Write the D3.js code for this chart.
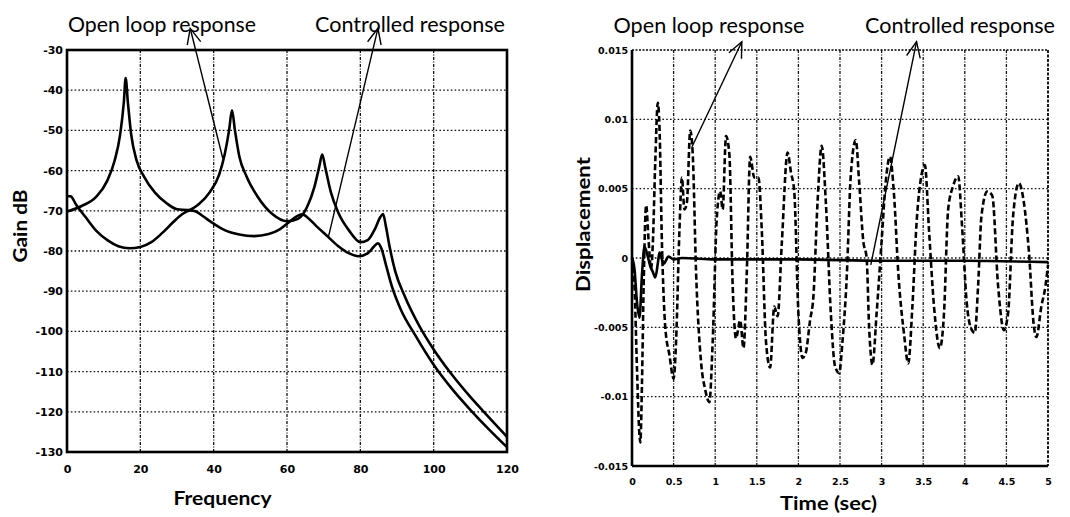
<!DOCTYPE html>
<html>
<head>
<meta charset="utf-8">
<script src="https://cdn.jsdelivr.net/npm/d3@7"></script>
<style>
  body { margin: 0; background: #fff; }
  svg { display: block; }
</style>
</head>
<body>
<div id="chart"></div>
<script>
// ---- left panel: frequency response ----
const freqTicks = [0, 20, 40, 60, 80, 100, 120];
const gainTicks = [-30, -40, -50, -60, -70, -80, -90, -100, -110, -120, -130];

const openFreq = [0, 4, 8, 11, 13, 14.5, 15.5, 16, 16.6, 17.5, 19, 21, 24, 27, 30, 33, 36, 39, 41.5, 43, 44.2, 45, 45.8, 47, 49, 52, 56, 60, 63, 65.5, 67.5, 68.8, 69.6, 70.5, 72, 74, 77, 80, 82, 84, 85.5, 86.2, 87, 88, 89.5, 92, 96, 100, 105, 110, 115, 120];
const openGain = [-70.2, -68.8, -66.5, -62.5, -57.5, -51, -43, -37, -43, -51, -57.5, -61.5, -65.5, -68, -69.6, -69.8, -68.3, -65.3, -61, -56, -50, -45, -50, -56.5, -61.5, -66.5, -70.8, -72.6, -72, -69, -64, -59, -56, -59.5, -65.5, -70.5, -75, -77.8, -77.3, -74.5, -71.5, -70.8, -74, -79, -85, -91, -98.5, -104.5, -110.8, -116.3, -121.3, -126.2];

const ctrlFreq = [0, 1, 2.5, 5, 8, 11, 14, 17, 20, 23, 26, 29, 31.5, 33.5, 35, 37, 40, 43, 47, 51, 55, 58, 61, 63, 64.3, 65.5, 68, 71, 74, 77, 79.5, 82, 83.8, 84.8, 85.8, 87, 88.5, 91, 95, 100, 105, 110, 115, 120];
const ctrlGain = [-66.3, -66.4, -68.5, -71.5, -75, -77.3, -78.8, -79.3, -79, -77.8, -75.5, -72.8, -70.8, -69.9, -70.1, -71.3, -73.2, -74.8, -75.9, -76.3, -75.8, -74.6, -72.5, -71.2, -70.9, -71.6, -73.8, -76.3, -78.8, -80.6, -81.3, -80.6, -78.8, -78.1, -79.5, -83.5, -88.5, -94.5, -101, -108.3, -114.3, -119.5, -124.3, -128.8];

// ---- right panel: time response ----
const timeTicks = [0, 0.5, 1, 1.5, 2, 2.5, 3, 3.5, 4, 4.5, 5];
const dispTicks = [0.015, 0.01, 0.005, 0, -0.005, -0.01, -0.015];

const openTime = [0, 0.03, 0.06, 0.09, 0.1, 0.12, 0.14, 0.17, 0.2, 0.23, 0.25, 0.28, 0.31, 0.33, 0.36, 0.4, 0.45, 0.5, 0.53, 0.57, 0.6, 0.63, 0.66, 0.7, 0.73, 0.77, 0.83, 0.88, 0.93, 0.97, 1.02, 1.06, 1.09, 1.13, 1.17, 1.21, 1.25, 1.3, 1.34, 1.38, 1.42, 1.47, 1.52, 1.56, 1.61, 1.66, 1.71, 1.75, 1.8, 1.87, 1.91, 1.95, 2, 2.05, 2.09, 2.14, 2.18, 2.23, 2.28, 2.33, 2.39, 2.44, 2.49, 2.53, 2.58, 2.63, 2.69, 2.73, 2.78, 2.82, 2.85, 2.89, 2.94, 3, 3.05, 3.1, 3.15, 3.2, 3.27, 3.32, 3.37, 3.42, 3.48, 3.52, 3.57, 3.63, 3.7, 3.75, 3.8, 3.86, 3.92, 3.97, 4.02, 4.07, 4.12, 4.16, 4.2, 4.27, 4.33, 4.4, 4.47, 4.52, 4.58, 4.65, 4.71, 4.77, 4.83, 4.86, 4.92, 4.97, 5];
const openDisp = [0, -0.002, -0.008, -0.0128, -0.0133, -0.009, -0.002, 0.0038, 0.0012, -0.0008, 0.001, 0.007, 0.0112, 0.0095, 0.001, -0.005, -0.007, -0.0087, -0.006, 0.002, 0.0058, 0.0035, 0.004, 0.0092, 0.0075, -0.001, -0.0075, -0.0095, -0.0104, -0.006, 0.003, 0.0048, 0.0035, 0.0088, 0.0075, -0.002, -0.0058, -0.0045, -0.0065, -0.001, 0.0073, 0.0058, 0.0058, 0.002, -0.006, -0.0079, -0.0035, -0.0042, 0.001, 0.0076, 0.0062, 0.0048, -0.004, -0.0072, -0.0068, -0.0045, -0.0028, 0.004, 0.0081, 0.004, -0.004, -0.0078, -0.0083, -0.006, -0.0015, 0.006, 0.0085, 0.0055, 0.0012, 0, -0.005, -0.0077, -0.004, 0.0012, 0.0055, 0.0073, 0.0045, -0.001, -0.0055, -0.0076, -0.0035, 0.0025, 0.006, 0.0067, 0.002, -0.0035, -0.0065, -0.004, 0.0035, 0.0052, 0.0059, 0.002, -0.003, -0.005, -0.0054, -0.002, 0.003, 0.0048, 0.0045, -0.002, -0.0052, -0.004, 0.003, 0.0054, 0.004, 0.0005, -0.0049, -0.0057, -0.0035, -0.002, -0.0005];

const ctrlTime = [0, 0.03, 0.06, 0.09, 0.12, 0.15, 0.19, 0.22, 0.25, 0.28, 0.31, 0.33, 0.38, 0.44, 0.5, 0.6, 1, 2, 3, 4, 5];
const ctrlDisp = [0, -0.0008, -0.0032, -0.0043, -0.0012, 0.0008, 0.0001, -0.0006, -0.001, -0.0014, -0.0004, 0.0004, -0.0004, 0.0001, -0.0001, 0, -0.0001, -0.0001, -0.0002, -0.0002, -0.0003];

const svg = d3.select("#chart").append("svg")
    .attr("width", 1070)
    .attr("height", 517);

const tickFont = "'DejaVu Sans', sans-serif";
const labelFont = "Lato, 'Open Sans', sans-serif";
const minus = s => s.replace("\u2212", "-");

// scales
const xL = d3.scaleLinear().domain([0, 120]).range([67, 507]);
const yL = d3.scaleLinear().domain([-130, -30]).range([452, 50]);
const xR = d3.scaleLinear().domain([0, 5]).range([632, 1048]);
const yR = d3.scaleLinear().domain([-0.015, 0.015]).range([466, 50]);

function drawGrid(x, y, xt, yt) {
    const [x0, x1] = x.range();
    const [y0, y1] = y.range();
    const g = svg.append("g").attr("stroke", "#111").attr("fill", "none");
    g.selectAll("line.h").data(yt.slice(1, -1)).enter().append("line")
        .attr("x1", x0).attr("x2", x1)
        .attr("y1", d => y(d)).attr("y2", d => y(d))
        .attr("stroke-width", 1.3)
        .attr("stroke-dasharray", "1.6,2.2");
    g.selectAll("line.v").data(xt.slice(1, -1)).enter().append("line")
        .attr("x1", d => x(d)).attr("x2", d => x(d))
        .attr("y1", y0).attr("y2", y1)
        .attr("stroke-width", 1.3)
        .attr("stroke-dasharray", "3,1.5,1,1.5");
}

function drawAxes(x, y, xt, yt, xfmt, yfmt, fs, xPad) {
    svg.append("g")
        .attr("transform", `translate(0,${y.range()[0]})`)
        .call(d3.axisBottom(x).tickValues(xt).tickSize(0).tickPadding(xPad).tickFormat(xfmt))
        .call(g => g.select(".domain").remove())
        .selectAll("text")
        .style("font-family", tickFont).style("font-weight", "bold")
        .style("font-size", fs + "px").attr("fill", "#000");
    svg.append("g")
        .attr("transform", `translate(${x.range()[0]},0)`)
        .call(d3.axisLeft(y).tickValues(yt).tickSize(0).tickPadding(4).tickFormat(yfmt))
        .call(g => g.select(".domain").remove())
        .selectAll("text")
        .style("font-family", tickFont).style("font-weight", "bold")
        .style("font-size", fs + "px").attr("fill", "#000");
}

function arrow(x1, y1, x2, y2) {
    // tail (x1,y1) -> tip (x2,y2)
    const a = Math.atan2(y1 - y2, x1 - x2);
    const L = 17, w = 0.42;
    const g = svg.append("g").attr("stroke", "#000").attr("stroke-width", 1.4).attr("fill", "none");
    g.append("line").attr("x1", x1).attr("y1", y1).attr("x2", x2).attr("y2", y2);
    g.append("path")
        .attr("d", `M${x2 + L * Math.cos(a + w)},${y2 + L * Math.sin(a + w)}L${x2},${y2}L${x2 + L * Math.cos(a - w)},${y2 + L * Math.sin(a - w)}`);
}

// ---------------- left panel ----------------
drawGrid(xL, yL, freqTicks, gainTicks);
drawAxes(xL, yL, freqTicks, gainTicks, d => d, d => minus(String(d)), 11, 13);

const lineL = (fx, gy) => d3.line()
    .x((d, i) => xL(fx[i]))
    .y((d, i) => yL(gy[i]))
    .curve(d3.curveMonotoneX)(fx);

svg.append("path").attr("d", lineL(openFreq, openGain))
    .attr("fill", "none").attr("stroke", "#000").attr("stroke-width", 2.6);
svg.append("path").attr("d", lineL(ctrlFreq, ctrlGain))
    .attr("fill", "none").attr("stroke", "#000").attr("stroke-width", 2.6);

// frame
svg.append("rect")
    .attr("x", xL(0)).attr("y", yL(-30))
    .attr("width", xL(120) - xL(0)).attr("height", yL(-130) - yL(-30))
    .attr("fill", "none").attr("stroke", "#000").attr("stroke-width", 2.6);

// ---------------- right panel ----------------
drawGrid(xR, yR, timeTicks, dispTicks);
drawAxes(xR, yR, timeTicks, dispTicks, d => d, d => minus(String(d)), 9.5, 12);

const lineR = (tx, vy) => d3.line()
    .x((d, i) => xR(tx[i]))
    .y((d, i) => yR(vy[i]))
    .curve(d3.curveMonotoneX)(tx);

svg.append("path").attr("d", lineR(openTime, openDisp))
    .attr("fill", "none").attr("stroke", "#000").attr("stroke-width", 2.6)
    .attr("stroke-dasharray", "6,3");
svg.append("path").attr("d", lineR(ctrlTime, ctrlDisp))
    .attr("fill", "none").attr("stroke", "#000").attr("stroke-width", 2.6);

// frame: left & bottom solid, top & right dotted like the scan
const fr = svg.append("g").attr("stroke", "#000").attr("fill", "none");
fr.append("line").attr("x1", xR(0)).attr("x2", xR(0)).attr("y1", yR(0.015)).attr("y2", yR(-0.015)).attr("stroke-width", 2.6);
fr.append("line").attr("x1", xR(0)).attr("x2", xR(5)).attr("y1", yR(-0.015)).attr("y2", yR(-0.015)).attr("stroke-width", 2.6);
fr.append("line").attr("x1", xR(0)).attr("x2", xR(5)).attr("y1", yR(0.015)).attr("y2", yR(0.015)).attr("stroke-width", 1.6).attr("stroke-dasharray", "2,1.5");
fr.append("line").attr("x1", xR(5)).attr("x2", xR(5)).attr("y1", yR(0.015)).attr("y2", yR(-0.015)).attr("stroke-width", 1.8).attr("stroke-dasharray", "3,1.5");

// ---------------- axis titles ----------------
function label(txt, x, y, len, size, rot, weight) {
    svg.append("text")
        .attr("transform", `translate(${x},${y})` + (rot ? " rotate(-90)" : ""))
        .attr("text-anchor", "middle")
        .attr("textLength", len)
        .attr("lengthAdjust", "spacingAndGlyphs")
        .style("font-family", labelFont)
        .style("font-size", size + "px")
        .style("font-weight", weight)
        .attr("fill", "#000")
        .text(txt);
}

label("Frequency", 222.5, 505, 98, 19, false, "bold");
label("Gain dB", 27, 226, 73, 19, true, "bold");
label("Time (sec)", 828.5, 510, 97, 19, false, "bold");
label("Displacement", 590, 224.5, 135, 19, true, "bold");

// ---------------- annotations ----------------
label("Open loop response", 162, 32, 188, 21, false, "normal");
label("Controlled response", 410, 32, 190, 21, false, "normal");
label("Open loop response", 709, 33, 191, 21, false, "normal");
label("Controlled response", 960, 33, 190, 21, false, "normal");

arrow(xL(42.5), yL(-57), xL(33.6), yL(-24.6));
arrow(xL(71.3), yL(-76.5), xL(84.8), yL(-24.6));
arrow(xR(0.72), yR(0.008), xR(1.32), yR(0.0156));
arrow(xR(2.87), yR(-0.0005), xR(3.42), yR(0.0156));
</script>
</body>
</html>
